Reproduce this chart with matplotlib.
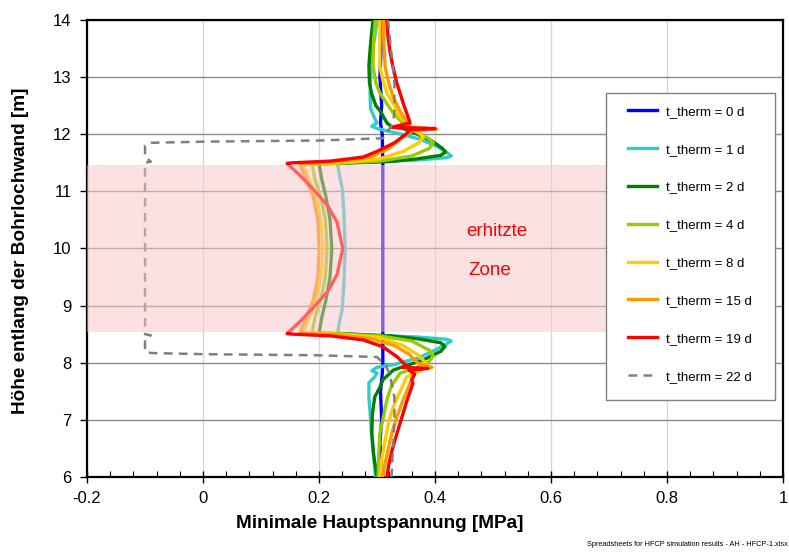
import numpy as np
import matplotlib
matplotlib.use("Agg")
import matplotlib.pyplot as plt
from matplotlib.patches import Rectangle
from matplotlib.ticker import MultipleLocator

plt.rcParams.update({"font.family": "Liberation Sans", "font.size": 12})

# minimum principal stress [MPa] vs height along the borehole wall [m]
labels = ["t_therm = 0 d", "t_therm = 1 d", "t_therm = 2 d", "t_therm = 4 d",
          "t_therm = 8 d", "t_therm = 15 d", "t_therm = 19 d", "t_therm = 22 d"]
colors = ["#0000FF", "#33CCCC", "#008000", "#99CC00",
          "#FFCC00", "#FF9900", "#FF0000", "#808080"]

s0_x = [0.306, 0.307, 0.305, 0.308, 0.306, 0.309, 0.31, 0.31, 0.31, 0.31, 0.309,
        0.306, 0.308, 0.305, 0.307, 0.306]
s0_y = [14.0, 13.5, 13.0, 12.5, 12.2, 12.0, 11.5, 10.0, 8.5, 8.0, 7.8,
        7.5, 7.0, 6.6, 6.3, 6.0]

s1_x = [0.300, 0.296, 0.291, 0.289, 0.288, 0.289, 0.295, 0.300, 0.291, 0.300, 0.330,
        0.372, 0.405, 0.422, 0.428, 0.420, 0.370, 0.300, 0.250, 0.232, 0.235, 0.240,
        0.243, 0.245, 0.243, 0.240, 0.235, 0.232, 0.250, 0.300, 0.370, 0.420, 0.428,
        0.420, 0.400, 0.370, 0.330, 0.300, 0.291, 0.300, 0.295, 0.286, 0.286, 0.289,
        0.291, 0.294, 0.297]
s1_y = [14.0, 13.7, 13.4, 13.0, 12.7, 12.45, 12.3, 12.2, 12.14, 12.1, 12.03,
        11.92, 11.78, 11.67, 11.62, 11.59, 11.55, 11.52, 11.50, 11.48, 11.3, 11.06,
        10.6, 10.0, 9.4, 8.94, 8.7, 8.52, 8.50, 8.48, 8.45, 8.41, 8.38,
        8.33, 8.22, 8.08, 7.97, 7.92, 7.86, 7.82, 7.74, 7.65, 7.4, 7.0,
        6.7, 6.4, 6.0]

s2_x = [0.293, 0.289, 0.286, 0.287, 0.291, 0.298, 0.306, 0.317, 0.325, 0.345, 0.370,
        0.395, 0.413, 0.418, 0.410, 0.370, 0.322, 0.260, 0.200, 0.205, 0.212, 0.219,
        0.222, 0.219, 0.212, 0.205, 0.200, 0.260, 0.322, 0.370, 0.410, 0.417, 0.410,
        0.380, 0.345, 0.328, 0.310, 0.305, 0.296, 0.292, 0.291, 0.294, 0.300]
s2_y = [14.0, 13.6, 13.2, 12.9, 12.7, 12.5, 12.4, 12.2, 12.13, 12.1, 12.0,
        11.88, 11.75, 11.69, 11.63, 11.57, 11.52, 11.50, 11.48, 11.2, 10.9, 10.5,
        10.0, 9.5, 9.1, 8.8, 8.52, 8.50, 8.47, 8.42, 8.35, 8.28, 8.2,
        8.05, 7.93, 7.87, 7.7, 7.57, 7.4, 7.1, 6.77, 6.4, 6.0]

s4_x = [0.297, 0.294, 0.293, 0.298, 0.305, 0.316, 0.328, 0.342, 0.352, 0.372, 0.390,
        0.397, 0.390, 0.360, 0.305, 0.240, 0.188, 0.193, 0.203, 0.211, 0.214, 0.211,
        0.203, 0.193, 0.188, 0.240, 0.305, 0.360, 0.390, 0.397, 0.390, 0.370, 0.340,
        0.325, 0.317, 0.310, 0.305, 0.303, 0.302]
s4_y = [14.0, 13.6, 13.2, 12.9, 12.72, 12.55, 12.37, 12.22, 12.13, 12.02, 11.92,
        11.85, 11.75, 11.62, 11.53, 11.50, 11.48, 11.2, 10.9, 10.5, 10.0, 9.5,
        9.1, 8.8, 8.52, 8.50, 8.47, 8.38, 8.22, 8.12, 8.02, 7.92, 7.82,
        7.6, 7.35, 7.0, 6.77, 6.4, 6.0]

s8_x = [0.305, 0.305, 0.305, 0.310, 0.317, 0.330, 0.340, 0.355, 0.372, 0.380, 0.372,
        0.345, 0.305, 0.240, 0.172, 0.183, 0.195, 0.203, 0.207, 0.203, 0.195, 0.183,
        0.172, 0.240, 0.305, 0.345, 0.372, 0.385, 0.378, 0.351, 0.340, 0.328, 0.320,
        0.314, 0.308, 0.305]
s8_y = [14.0, 13.6, 13.18, 12.95, 12.72, 12.5, 12.3, 12.15, 12.02, 11.95, 11.85,
        11.7, 11.57, 11.50, 11.48, 11.2, 10.9, 10.5, 10.0, 9.5, 9.1, 8.8,
        8.52, 8.50, 8.44, 8.3, 8.13, 7.98, 7.88, 7.75, 7.5, 7.23, 6.95,
        6.65, 6.3, 6.0]

s15_x = [0.311, 0.312, 0.314, 0.320, 0.328, 0.340, 0.352, 0.360, 0.403, 0.360, 0.345,
         0.320, 0.290, 0.230, 0.167, 0.178, 0.190, 0.198, 0.200, 0.198, 0.190, 0.178,
         0.167, 0.230, 0.290, 0.330, 0.355, 0.370, 0.395, 0.365, 0.357, 0.345, 0.334,
         0.325, 0.319, 0.313, 0.310]
s15_y = [14.0, 13.6, 13.18, 12.9, 12.65, 12.4, 12.2, 12.12, 12.09, 12.06, 11.95,
         11.75, 11.6, 11.52, 11.48, 11.2, 10.9, 10.5, 10.0, 9.5, 9.1, 8.8,
         8.52, 8.49, 8.42, 8.3, 8.15, 8.0, 7.92, 7.88, 7.64, 7.35, 7.05,
         6.75, 6.47, 6.2, 6.0]

s19_x = [0.317, 0.319, 0.322, 0.327, 0.334, 0.345, 0.357, 0.325, 0.400, 0.357, 0.352,
         0.330, 0.300, 0.276, 0.220, 0.155, 0.145, 0.165, 0.188, 0.215, 0.231, 0.241,
         0.231, 0.215, 0.188, 0.165, 0.145, 0.155, 0.220, 0.276, 0.310, 0.335, 0.350,
         0.343, 0.388, 0.355, 0.365, 0.360, 0.362, 0.352, 0.343, 0.334, 0.326, 0.320,
         0.317]
s19_y = [14.0, 13.7, 13.47, 13.2, 12.9, 12.55, 12.2, 12.12, 12.1, 12.08, 12.02,
         11.85, 11.7, 11.6, 11.53, 11.5, 11.49, 11.3, 11.06, 10.75, 10.46, 10.0,
         9.54, 9.25, 8.94, 8.7, 8.51, 8.5, 8.47, 8.4, 8.28, 8.1, 7.95,
         7.92, 7.9, 7.87, 7.8, 7.7, 7.64, 7.35, 7.05, 6.75, 6.47, 6.2,
         6.0]

s22_x = [0.319, 0.322, 0.326, 0.330, 0.330, 0.330, 0.325, 0.310, 0.200, 0.000, -0.090,
         -0.100, -0.100, -0.090, -0.100, -0.100, -0.090, -0.100, -0.100, -0.090, 0.000,
         0.200, 0.300, 0.315, 0.322, 0.330, 0.330, 0.328, 0.326, 0.325]
s22_y = [14.0, 13.7, 13.3, 12.9, 12.6, 12.35, 12.15, 11.93, 11.89, 11.87, 11.85,
         11.8, 11.6, 11.52, 11.5, 8.5, 8.48, 8.4, 8.2, 8.17, 8.15,
         8.13, 8.1, 7.95, 7.8, 7.4, 7.0, 6.6, 6.2, 6.0]

series_x = [s0_x, s1_x, s2_x, s4_x, s8_x, s15_x, s19_x, s22_x]
series_y = [s0_y, s1_y, s2_y, s4_y, s8_y, s15_y, s19_y, s22_y]

# heated section of the borehole
zone_x = (-0.2, 0.695)
zone_y = (8.53, 11.47)

fig = plt.figure(figsize=(7.89, 5.52), dpi=100)
ax = fig.add_axes([0.1103, 0.1359, 0.8821, 0.8279])

for i in range(8):
    if i == 7:
        ax.plot(series_x[i], series_y[i], color=colors[i], lw=1.8,
                ls=(0, (3.5, 2.5)), label=labels[i], zorder=3)
    else:
        ax.plot(series_x[i], series_y[i], color=colors[i], lw=2.4,
                label=labels[i], zorder=3)

ax.fill_between(zone_x, zone_y[0], zone_y[1], color="#FBC4C8", alpha=0.5,
                lw=0, zorder=4)
ax.text(0.507, 10.29, "erhitzte", color="#FF0000", fontsize=13.5, ha="center",
        va="center", zorder=5)
ax.text(0.495, 9.62, "Zone", color="#FF0000", fontsize=13.5, ha="center",
        va="center", zorder=5)

ax.set_xlim(-0.2, 1.0)
ax.set_ylim(6, 14)
ax.xaxis.set_minor_locator(MultipleLocator(0.04))
ax.yaxis.set_major_locator(MultipleLocator(1))
ax.set_xticks([-0.2, 0, 0.2, 0.4, 0.6, 0.8, 1.0])
ax.set_xticklabels(["-0.2", "0", "0.2", "0.4", "0.6", "0.8", "1"])

ax.tick_params(axis="x", which="major", direction="inout", length=8, width=1,
               pad=6, labelsize=12)
ax.tick_params(axis="x", which="minor", direction="in", length=4, width=0.8)
ax.tick_params(axis="y", which="major", direction="out", length=5, width=1,
               pad=6, labelsize=12)

ax.grid(axis="y", color="#8C8C8C", lw=1.0, zorder=0)
ax.grid(axis="x", color="#D4D4D4", lw=0.9, zorder=0)
ax.set_axisbelow(True)
for sp in ax.spines.values():
    sp.set_linewidth(1.6)
    sp.set_color("black")

ax.set_xlabel("Minimale Hauptspannung [MPa]", fontsize=13.7, fontweight="bold",
              va="top")
ax.xaxis.set_label_coords(0.421, -0.083)
ax.set_ylabel("Höhe entlang der Bohrlochwand [m]", fontsize=13.7,
              fontweight="bold")
ax.yaxis.set_label_coords(-0.084, 0.495)

# legend box drawn separately so the padding can differ per side
ax.add_patch(Rectangle((0.7457, 0.1685), 0.2428, 0.6718, transform=ax.transAxes,
                       facecolor="white", edgecolor="#808080", lw=1.0, zorder=6))
leg = ax.legend(loc="upper left", bbox_to_anchor=(0.7773, 0.8127), fontsize=9.5,
                frameon=False, borderpad=0, labelspacing=1.94, handlelength=2.2,
                handletextpad=0.7, borderaxespad=0)
leg.set_zorder(7)

fig.text(0.999, 0.008, "Spreadsheets for HFCP simulation results - AH - HFCP-1.xlsx",
         fontsize=5.3, ha="right", va="bottom")

fig.savefig("out.png", dpi=100)
